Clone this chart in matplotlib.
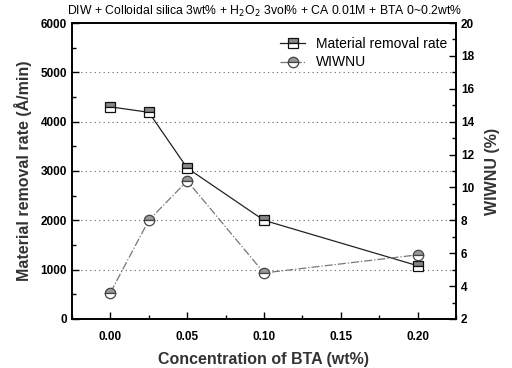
import matplotlib
matplotlib.use("Agg")
import matplotlib.pyplot as plt
from matplotlib.ticker import MultipleLocator

plt.rcParams['font.family'] = ['Liberation Sans', 'DejaVu Sans']

bta = [0.0, 0.025, 0.05, 0.10, 0.20]
mrr = [4300, 4190, 3060, 2000, 1080]
wiwnu = [3.6, 8.0, 10.4, 4.8, 5.9]

fig = plt.figure(figsize=(5.12, 3.68), dpi=100)
ax = fig.add_axes([0.1406, 0.1332, 0.75, 0.8043])
ax2 = ax.twinx()

ax.set_xlim(-0.025, 0.225)
ax.set_ylim(0, 6000)
ax2.set_ylim(2, 20)

ax.yaxis.grid(True, linestyle=(0, (1, 3)), color="#666666", linewidth=0.8)
ax.set_axisbelow(True)

l1, = ax.plot(bta, mrr, color="#222222", linewidth=0.9, marker="s",
              markersize=7, fillstyle="top", markerfacecolor="#888888",
              markerfacecoloralt="white", markeredgecolor="#111111",
              markeredgewidth=0.9, label="Material removal rate")
l2, = ax2.plot(bta, wiwnu, color="#777777", linewidth=0.9, linestyle="-.",
               marker="o", markersize=7.5, fillstyle="top",
               markerfacecolor="#999999", markerfacecoloralt="white",
               markeredgecolor="#444444", markeredgewidth=0.9, label="WIWNU")

ax.set_xticks([0.0, 0.05, 0.10, 0.15, 0.20])
ax.set_xticklabels(["0.00", "0.05", "0.10", "0.15", "0.20"])
ax.xaxis.set_minor_locator(MultipleLocator(0.025))
ax.yaxis.set_major_locator(MultipleLocator(1000))
ax.yaxis.set_minor_locator(MultipleLocator(500))
ax2.yaxis.set_major_locator(MultipleLocator(2))
ax2.yaxis.set_minor_locator(MultipleLocator(1))

for a in (ax, ax2):
    a.tick_params(which="both", direction="in", width=1.0)
    a.tick_params(which="major", length=5, labelsize=8.5)
    a.tick_params(which="minor", length=3)
    for lab in a.get_xticklabels() + a.get_yticklabels():
        lab.set_fontweight("bold")
    for s in a.spines.values():
        s.set_linewidth(1.2)
ax.tick_params(axis="x", pad=9)

ax.set_xlabel("Concentration of BTA (wt%)", fontsize=11.5, fontweight="bold",
              color="#333333", labelpad=6)
ax.set_ylabel("Material removal rate (Å/min)", fontsize=11.5,
              fontweight="bold", color="#333333", labelpad=6)
ax2.set_ylabel("WIWNU (%)", fontsize=11.5, fontweight="bold", color="#333333",
               labelpad=8)
ax.set_title("DIW + Colloidal silica 3wt% + H$_2$O$_2$ 3vol% + CA 0.01M + BTA 0~0.2wt%",
             fontsize=8.8, pad=6)

ax.legend([l1, l2], ["Material removal rate", "WIWNU"], loc="upper right",
          frameon=False, fontsize=10, handlelength=1.8,
          bbox_to_anchor=(1.0, 0.98), borderaxespad=0.2, labelspacing=0.3)

fig.savefig("out.png", dpi=100)
